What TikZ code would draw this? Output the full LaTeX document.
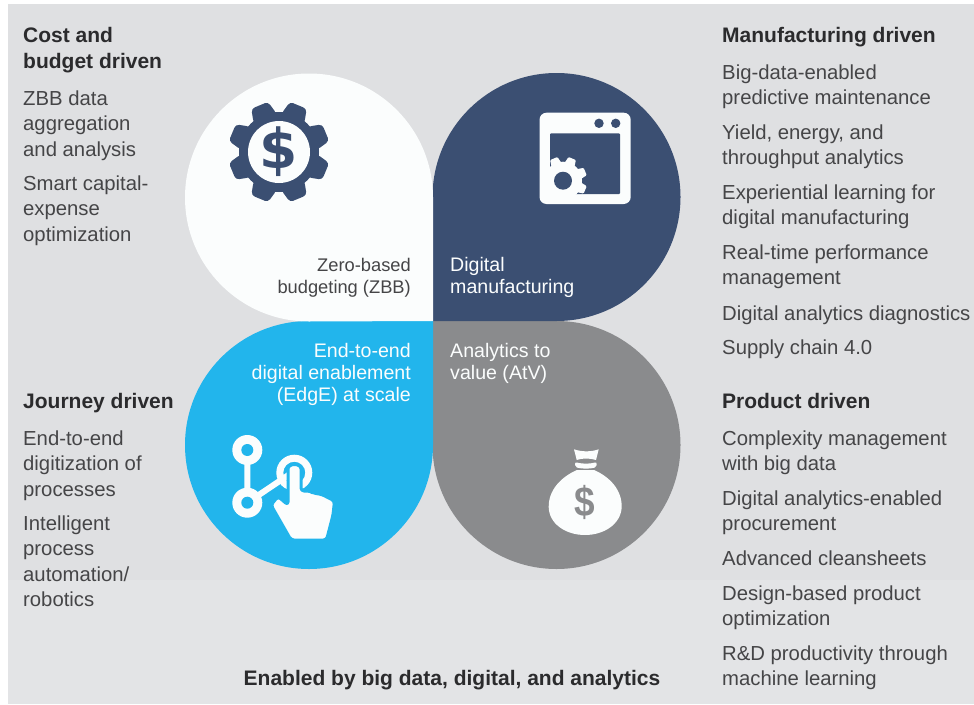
\documentclass[tikz,border=0pt]{standalone}
\usepackage{fontspec}
\setmainfont{Liberation Sans}
\newfontfamily\signfont{DejaVu Sans}
\definecolor{bgup}{HTML}{DFE0E2}
\definecolor{bglow}{HTML}{E3E4E6}
\definecolor{navy}{HTML}{3B4F72}
\definecolor{cyanp}{HTML}{22B5EC}
\definecolor{grayp}{HTML}{8A8B8D}
\definecolor{whitep}{HTML}{FBFDFD}
\definecolor{ink}{HTML}{454547}
\definecolor{headink}{HTML}{2B2B2D}
\newcommand{\fs}{\rule{0pt}{15pt}}
\tikzset{
  body/.style={anchor=north west,inner sep=0pt,align=left,text=ink,font=\fontsize{20.3}{25.5}\selectfont},
  head/.style={anchor=north west,inner sep=0pt,align=left,text=headink,font=\fontsize{21}{26}\selectfont\bfseries},
  petalr/.style={anchor=north east,inner sep=0pt,align=right,font=\fontsize{19.6}{22}\selectfont},
  petall/.style={anchor=north west,inner sep=0pt,align=left,font=\fontsize{19.6}{22}\selectfont},
}
\begin{document}
\begin{tikzpicture}[x=1pt,y=-1pt]
\useasboundingbox (0,0) rectangle (974,704);
\fill[white] (0,0) rectangle (974,704);
\fill[bglow] (8,4) rectangle (974,704);
\fill[bgup] (8,4) rectangle (974,580);
% petals
\fill[grayp] (433,321) -- (556.5,321) arc[start angle=90,end angle=-180,radius=124pt] -- cycle;
\fill[cyanp] (433,321) -- (433,445) arc[start angle=0,end angle=-270,radius=124pt] -- cycle;
\fill[navy] (432.5,321) -- (556.5,321) arc[start angle=270,end angle=540,radius=124pt] -- cycle;
\fill[whitep] (433,321) -- (433,197.5) arc[start angle=0,end angle=270,radius=124pt] -- cycle;
% gear icon
\foreach \a in {22.5,67.5,...,360}{
  \fill[navy,rounded corners=3.5pt,shift={(279,152)},rotate=\a] (36,-12.5) -- (50.5,-9) -- (50.5,9) -- (36,12.5) -- cycle;
}
\fill[navy] (279,152) circle (40pt);
\fill[whitep] (279,152) circle (31pt);
\node[text=navy,inner sep=0pt,font=\fontsize{55}{55}\selectfont\signfont\bfseries] (gearsign) at (279,152) {\$};
% window icon
\fill[whitep,rounded corners=7pt] (539.5,112.7) rectangle (630.7,204);
\fill[navy,rounded corners=1pt] (550,133.3) rectangle (620,194);
\fill[navy] (599,123.3) circle (4.7pt) (615.7,123.3) circle (4.7pt);
\begin{scope}
\clip (550,133.3) rectangle (620,194);
\foreach \a in {0,45,...,315}{
  \fill[whitep,rounded corners=1pt,shift={(563,180.7)},rotate=\a+22.5] (16,-5.5) -- (24,-4) -- (24,4) -- (16,5.5) -- cycle;
}
\fill[whitep] (563,180.7) circle (19pt);
\end{scope}
\fill[navy] (563,180.7) circle (9pt);
% network-hand icon
\draw[whitep,line width=6pt] (247.3,450) -- (247.3,502.7) -- (290,474);
\fill[whitep] (247.3,450) circle (15pt) (247.3,502.7) circle (15pt);
\fill[cyanp] (247.3,450) circle (6pt) (247.3,502.7) circle (6pt);
\fill[whitep,even odd rule] (294.3,472.7) circle (18pt) (294.3,472.7) circle (11pt);
\path[fill=whitep,draw=cyanp,line width=3pt,rounded corners=3pt,line join=round]
  (288,472) .. controls (288,463) and (301,463) .. (301,472)
  -- (301,491) -- (310,491) -- (313,493) -- (322,494.5) -- (334.5,501)
  -- (333,515) -- (326.5,540) -- (291,540) -- (271,505) -- (278,496.5) -- (288,505) -- cycle;
% money bag icon
\fill[whitep] (574,449.3) .. controls (582,452) and (591,452) .. (598.7,449.3)
  -- (596,460) .. controls (590,458) and (582,458) .. (576.7,460) -- cycle;
\fill[whitep,rounded corners=2pt] (575,462) .. controls (582,464) and (590,464) .. (596.7,462)
  -- (596.7,467) .. controls (590,469) and (582,469) .. (575,467) -- cycle;
\fill[whitep] (577,470) -- (594,470)
  .. controls (610,477) and (622,490) .. (621.7,507)
  .. controls (621,524) and (604,535) .. (585,535)
  .. controls (566,535) and (549,524) .. (548.7,507)
  .. controls (548.5,490) and (561,477) .. (577,470) -- cycle;
\node[text=grayp,inner sep=0pt,xscale=.88,font=\fontsize{42}{42}\selectfont\bfseries] (bagsign) at (584.5,502) {\$};
% petal labels
\node[petalr,text=ink,font=\fontsize{18.3}{22}\selectfont] (zbb) at (411,256) {\fs Zero-based\\budgeting (ZBB)};
\node[petall,text=whitep] (dm) at (450,256) {\fs Digital\\manufacturing};
\node[petalr,text=whitep] (edge) at (411,342) {\fs End-to-end\\digital enablement\\(EdgE) at scale};
\node[petall,text=whitep] (atv) at (450,342) {\fs Analytics to\\value (AtV)};
% left column
\node[head] (h1) at (23,27) {\fs Cost and\\budget driven};
\node[body] (l1) at (23,90) {\fs ZBB data\\aggregation\\and analysis};
\node[body] (l2) at (23,175) {\fs Smart capital-\\expense\\optimization};
\node[head] (h2) at (23,393) {\fs Journey driven};
\node[body] (l3) at (23,430) {\fs End-to-end\\digitization of\\processes};
\node[body] (l4) at (23,515) {\fs Intelligent\\process\\automation/\\robotics};
% right column
\node[head] (h3) at (722,27) {\fs Manufacturing driven};
\node[body] (r1) at (722,64) {\fs Big-data-enabled\\predictive maintenance};
\node[body] (r2) at (722,124) {\fs Yield, energy, and\\throughput analytics};
\node[body] (r3) at (722,184) {\fs Experiential learning for\\digital manufacturing};
\node[body] (r4) at (722,244) {\fs Real-time performance\\management};
\node[body] (r5) at (722,305) {\fs Digital analytics diagnostics};
\node[body] (r6) at (722,339) {\fs Supply chain 4.0};
\node[head] (h4) at (722,393) {\fs Product driven};
\node[body] (r7) at (722,430) {\fs Complexity management\\with big data};
\node[body] (r8) at (722,490) {\fs Digital analytics-enabled\\procurement};
\node[body] (r9) at (722,550) {\fs Advanced cleansheets};
\node[body] (r10) at (722,585) {\fs Design-based product\\optimization};
\node[body] (r11) at (722,645) {\fs R\&D productivity through\\machine learning};
% footer
\node[head,anchor=north] (foot) at (452,670) {\fs Enabled by big data, digital, and analytics};
\end{tikzpicture}
\end{document}
